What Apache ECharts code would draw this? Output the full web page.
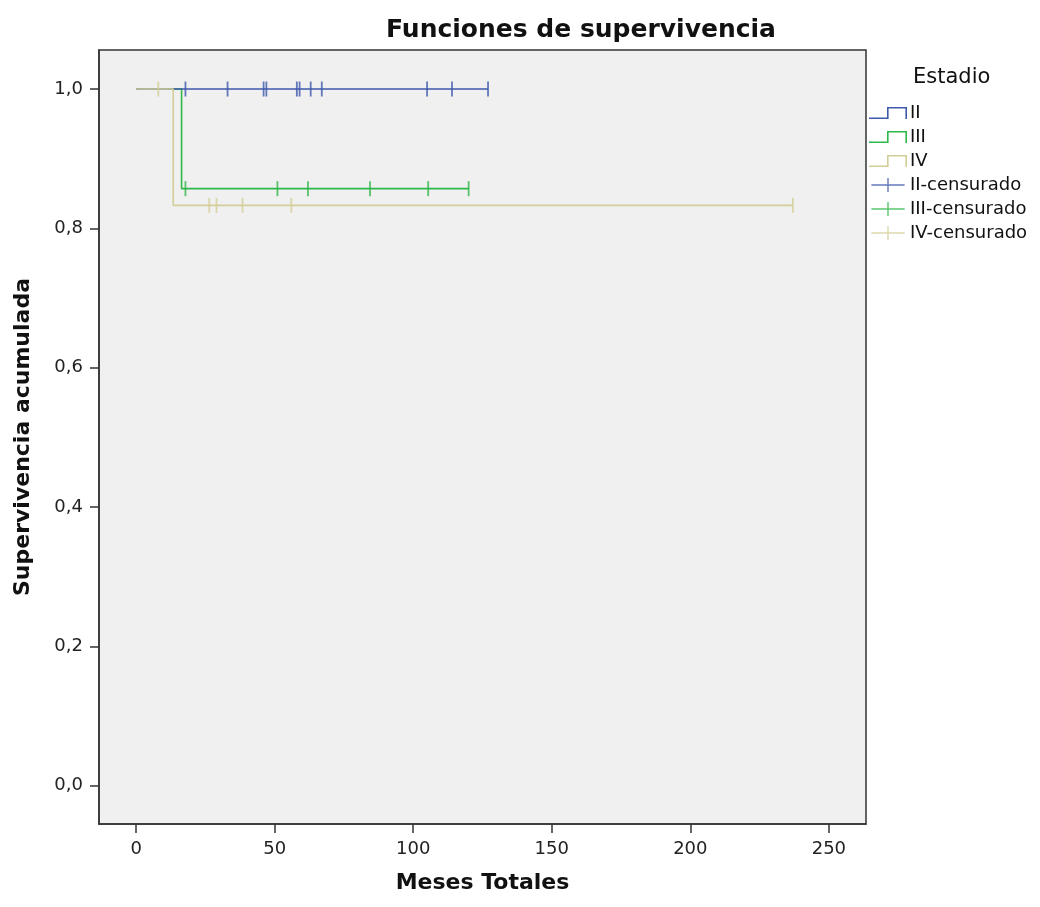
<!DOCTYPE html>
<html>
<head>
<meta charset="utf-8">
<script src="https://cdn.jsdelivr.net/npm/echarts@6/dist/echarts.min.js"></script>
<style>html,body{margin:0;padding:0;background:#fff}#c{width:1040px;height:907px}</style>
</head>
<body>
<div id="c"></div>
<script>
// Kaplan-Meier step points [time, survival]
var stepII  = [[0, 1.0], [127, 1.0]];
var stepIII = [[0, 1.0], [16.4, 0.857], [120, 0.857]];
var stepIV  = [[0, 1.0], [13.4, 0.833], [237, 0.833]];
// Censored observations [time, survival]
var censII  = [[17.8, 1.0], [33, 1.0], [46, 1.0], [47, 1.0], [58, 1.0], [59, 1.0], [63, 1.0], [67, 1.0], [105, 1.0], [114, 1.0], [127, 1.0]];
var censIII = [[17.8, 0.857], [51, 0.857], [62, 0.857], [84.4, 0.857], [105.4, 0.857], [120, 0.857]];
var censIV  = [[8, 1.0], [26.4, 0.833], [29, 0.833], [38.4, 0.833], [56, 0.833], [237, 0.833]];
var xTicks = [0, 50, 100, 150, 200, 250];
var yTicks = [0, 0.2, 0.4, 0.6, 0.8, 1.0];
var groups = ['II', 'III', 'IV'];

var colors = ['#3E58AC', '#2EB848', '#D3CE97'];
var stepIcon = 'path://M0,10.4 h19 v1.6 h-19 z M18,0 h1.6 v12 h-1.6 z M18,0 h20 v1.6 h-20 z M36.4,0 h1.6 v12 h-1.6 z';
var crossIcon = 'path://M18.2,0 h1.6 v16 h-1.6 z M0,7.2 h38 v1.6 h-38 z';
var font = 'DejaVu Sans';

var steps = [stepII, stepIII, stepIV];
var cens = [censII, censIII, censIV];
var lineZ = [3, 2, 4];
var series = [];
[0, 1, 2].forEach(function (i) {
  series.push({
    name: groups[i], type: 'line', step: 'end', data: steps[i],
    symbol: 'none', lineStyle: { color: colors[i], width: 1.6 }, itemStyle: { color: colors[i] },
    z: lineZ[i]
  });
});
[0, 1, 2].forEach(function (i) {
  series.push({
    name: groups[i] + '-censurado', type: 'scatter', data: cens[i],
    symbol: 'rect', symbolSize: [1.8, 15], itemStyle: { color: colors[i] },
    z: 6 + lineZ[i]
  });
});

var legendData = [];
groups.forEach(function (g, i) { legendData.push({ name: g, icon: stepIcon, itemStyle: { color: colors[i] } }); });
groups.forEach(function (g, i) { legendData.push({ name: g + '-censurado', icon: crossIcon, itemStyle: { color: colors[i] } }); });

var chart = echarts.init(document.getElementById('c'));
chart.setOption({
  animation: false,
  color: colors,
  textStyle: { fontFamily: font },
  title: [
    { text: 'Funciones de supervivencia', left: 576, top: 13, textAlign: 'center',
      textStyle: { fontFamily: font, fontWeight: 'bold', fontSize: 25, color: '#111' } },
    { text: 'Estadio', left: 908, top: 62,
      textStyle: { fontFamily: font, fontWeight: 'normal', fontSize: 21, color: '#111' } }
  ],
  legend: {
    orient: 'vertical', left: 869, top: 104, padding: 0,
    itemWidth: 38, itemHeight: 14, itemGap: 6,
    textStyle: { fontFamily: font, fontSize: 18, color: '#111', padding: [0, 0, 0, -2] },
    data: legendData, selectedMode: false
  },
  grid: {
    left: 99, right: 174, top: 50, bottom: 83, show: true,
    backgroundColor: '#F0F0F0', borderColor: '#333', borderWidth: 1.5
  },
  xAxis: {
    type: 'value', min: -13.4, max: 263.4,
    name: 'Meses Totales', nameLocation: 'middle', nameGap: 48,
    nameTextStyle: { fontFamily: font, fontWeight: 'bold', fontSize: 22, color: '#111' },
    axisLine: { show: true, onZero: false, lineStyle: { color: '#333', width: 1.5 } },
    axisTick: { show: true, length: 9, customValues: xTicks, lineStyle: { color: '#333', width: 1.5 } },
    axisLabel: { customValues: xTicks, fontSize: 18, color: '#222', margin: 16 },
    splitLine: { show: false }
  },
  yAxis: {
    type: 'value', min: -0.055, max: 1.056,
    name: 'Supervivencia acumulada', nameLocation: 'middle', nameGap: 65,
    nameTextStyle: { fontFamily: font, fontWeight: 'bold', fontSize: 22, color: '#111' },
    axisLine: { show: true, onZero: false, lineStyle: { color: '#333', width: 1.5 } },
    axisTick: { show: true, length: 9, customValues: yTicks, lineStyle: { color: '#333', width: 1.5 } },
    axisLabel: { customValues: yTicks, fontSize: 18, color: '#222', margin: 16,
      formatter: function (v) { return v.toFixed(1).replace('.', ','); } },
    splitLine: { show: false }
  },
  series: series
});
</script>
</body>
</html>
